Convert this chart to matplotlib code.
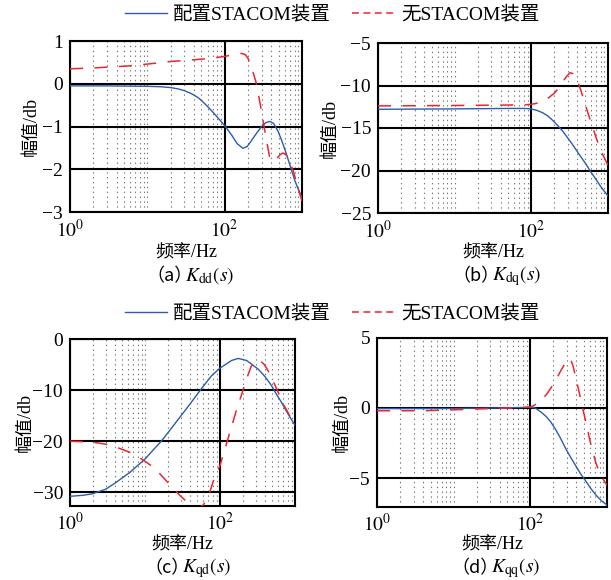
import numpy as np
import matplotlib
matplotlib.use("Agg")
import matplotlib.pyplot as plt
from matplotlib.lines import Line2D
from matplotlib.ticker import FixedLocator, NullFormatter

plt.rcParams['font.family'] = ['Liberation Serif', 'Noto Sans CJK SC', 'DejaVu Sans']
plt.rcParams['mathtext.fontset'] = 'stix'
plt.rcParams['lines.scale_dashes'] = False

# ---------------- data ----------------
legend_labels = ['配置STACOM装置', '无STACOM装置']
caption_tags = ['（a）', '（b）', '（c）', '（d）']
caption_math = ['$K_{\\mathrm{dd}}(s)$', '$K_{\\mathrm{dq}}(s)$',
                '$K_{\\mathrm{qd}}(s)$', '$K_{\\mathrm{qq}}(s)$']
xlabel = '频率/Hz'
ylabel = '幅值/db'
xtick_vals = [1, 100]
xtick_labels = ['$10^0$', '$10^2$']

# (a) Kdd
a_with_f = [1, 3, 10, 15, 20, 25, 30, 37, 45, 52, 60, 70, 82, 100, 122, 145, 172, 195, 220, 260, 300, 340, 385, 430, 490, 560, 630, 720, 810, 900, 1000]
a_with_y = [-0.05, -0.05, -0.06, -0.07, -0.09, -0.12, -0.16, -0.23, -0.32, -0.42, -0.53, -0.66, -0.80, -0.98, -1.19, -1.40, -1.51, -1.47, -1.34, -1.15, -1.00, -0.91, -0.88, -0.93, -1.11, -1.38, -1.65, -1.98, -2.27, -2.48, -2.66]
a_without_f = [1, 2, 4, 6, 10, 20, 40, 70, 100, 130, 164, 185, 200, 230, 256, 290, 330, 380, 420, 460, 520, 570, 620, 680, 760, 880, 1000]
a_without_y = [0.35, 0.37, 0.40, 0.42, 0.46, 0.52, 0.56, 0.60, 0.64, 0.68, 0.71, 0.68, 0.60, 0.30, 0.02, -0.50, -1.10, -1.70, -1.82, -1.78, -1.66, -1.62, -1.66, -1.80, -2.00, -2.40, -2.75]

# (b) Kdq
b_with_f = [1, 10, 50, 80, 100, 120, 140, 165, 190, 220, 253, 300, 342, 420, 512, 600, 692, 820, 1000]
b_with_y = [-12.8, -12.75, -12.7, -12.7, -12.75, -12.95, -13.2, -13.6, -14.1, -14.7, -15.3, -16.2, -16.9, -18.1, -19.2, -20.2, -21.0, -22.0, -23.0]
b_without_f = [1, 10, 50, 90, 110, 130, 150, 170, 200, 227, 260, 290, 320, 350, 394, 440, 480, 560, 680, 800, 1000]
b_without_y = [-12.4, -12.35, -12.3, -12.25, -12.15, -12.0, -11.75, -11.4, -10.9, -10.3, -9.5, -8.9, -8.5, -8.6, -9.3, -10.5, -11.6, -13.5, -15.8, -17.6, -19.4]

# (c) Kqd
c_with_f = [1, 1.5, 2, 3, 4, 6.3, 10, 16.7, 25, 40, 56, 77, 100, 143, 175, 226, 323, 400, 485, 560, 660, 800, 1000]
c_with_y = [-30.8, -30.6, -30.3, -29.4, -28.2, -26.1, -23.5, -19.9, -16.6, -12.7, -9.8, -7.2, -5.7, -4.2, -3.8, -4.2, -5.9, -7.4, -9.1, -10.7, -12.4, -14.6, -16.9]
c_without_f = [1, 2, 3, 4.2, 6.3, 9, 13, 17, 23, 30, 41, 50, 60, 73, 85, 100, 128, 165, 195, 230, 260, 300, 340, 390, 450, 520, 600, 700, 800, 900, 1000]
c_without_y = [-20.0, -20.2, -20.6, -21.2, -22.2, -23.5, -25.1, -26.9, -29.0, -30.8, -32.6, -33.2, -32.5, -30.0, -27.0, -24.8, -19.5, -14.0, -10.8, -7.5, -5.4, -4.1, -4.2, -5.0, -6.5, -8.5, -10.5, -12.8, -14.3, -15.8, -17.0]

# (d) Kqq
d_with_f = [1, 10, 40, 80, 100, 115, 137, 160, 185, 215, 250, 290, 335, 390, 455, 530, 610, 720, 850, 1000]
d_with_y = [-0.05, -0.04, 0.0, 0.03, 0.05, 0.0, -0.28, -0.6, -1.0, -1.55, -2.2, -2.9, -3.5, -4.1, -4.7, -5.2, -5.7, -6.2, -6.6, -6.9]
d_without_f = [1, 2, 4, 9.4, 21, 46, 80, 100, 110, 125, 145, 165, 190, 216, 250, 290, 315, 335, 360, 393, 430, 458, 480, 520, 560, 610, 715, 790, 900, 1000]
d_without_y = [-0.2, -0.2, -0.2, -0.14, -0.07, -0.02, 0.03, 0.07, 0.15, 0.35, 0.65, 1.0, 1.5, 2.0, 2.65, 3.24, 3.5, 3.45, 3.0, 2.1, 1.2, 0.54, 0.0, -0.8, -1.6, -2.5, -3.9, -4.5, -5.1, -5.5]

ylims = [(-3, 1), (-25, -5), (-32.6, 0), (-7, 5)]
yticks = [[-3, -2, -1, 0, 1], [-25, -20, -15, -10, -5], [-30, -20, -10, 0], [-5, 0, 5]]

series = [(a_with_f, a_with_y, a_without_f, a_without_y),
          (b_with_f, b_with_y, b_without_f, b_without_y),
          (c_with_f, c_with_y, c_without_f, c_without_y),
          (d_with_f, d_with_y, d_without_f, d_without_y)]

# ---------------- layout ----------------
W, H = 611, 580
fig = plt.figure(figsize=(W / 100, H / 100), dpi=100)

# axes boxes in pixels: left, right, top, bottom
boxes = [(70, 302, 41, 212), (378, 608, 43, 213), (70, 295, 339, 505.5), (377, 607, 337.5, 506.5)]
ylabel_pos = [(31, 126), (330, 128), (25, 422), (342, 422)]
xlabel_y = [253, 253, 545, 545]
caption_y = [276, 276, 568, 568]

blue = '#2d5caa'
red = '#ea262e'
dash = (0, (9.4, 8.2))

minor = [m * 10 ** e for e in range(3) for m in range(1, 10) if not (m == 1 and e in (0, 2))]

for i, (box, s) in enumerate(zip(boxes, series)):
    l, r, t, b = box
    ax = fig.add_axes([l / W, 1 - b / H, (r - l) / W, (b - t) / H])
    ax.set_xscale('log')
    ax.set_xlim(1, 1000)
    ax.set_ylim(*ylims[i])
    ax.plot(s[0], s[1], color=blue, lw=1.0, zorder=3)
    ax.plot(s[2], s[3], color=red, lw=1.1, linestyle=dash, zorder=4)
    ax.xaxis.set_major_locator(FixedLocator(xtick_vals))
    ax.set_xticklabels(xtick_labels)
    ax.xaxis.set_minor_locator(FixedLocator(minor))
    ax.xaxis.set_minor_formatter(NullFormatter())
    ax.set_yticks(yticks[i])
    ax.grid(which='major', color='black', lw=1.5, linestyle='-', zorder=1)
    ax.grid(which='minor', axis='x', color='#777777', lw=0.8, linestyle=(0, (1, 2.5)), zorder=1)
    ax.set_axisbelow(True)
    ax.tick_params(which='both', length=0, labelsize=14, pad=5)
    for sp in ax.spines.values():
        sp.set_linewidth(1.5)
        sp.set_color('black')
    cx = (l + r) / 2
    fig.text(cx / W, 1 - xlabel_y[i] / H, xlabel, ha='center', va='center', fontsize=13)
    fig.text((cx + 7) / W, 1 - caption_y[i] / H, caption_tags[i], ha='right', va='center',
             fontsize=13, family=['Noto Sans CJK SC', 'Liberation Serif'])
    fig.text((cx - 1) / W, 1 - caption_y[i] / H, caption_math[i], ha='left', va='center',
             fontsize=14)
    yx, yy = ylabel_pos[i]
    fig.text(yx / W, 1 - yy / H, ylabel, ha='center', va='center', rotation=90, fontsize=13)

handles = [Line2D([], [], color=blue, lw=1.0),
           Line2D([], [], color=red, lw=1.1, linestyle=(0, (5, 3.2)))]
for ly in (15, 314):
    fig.legend(handles, legend_labels, loc='center', bbox_to_anchor=(332 / W, 1 - ly / H),
               ncol=2, frameon=False, fontsize=14, handlelength=2.2, handletextpad=0.3,
               columnspacing=1.1, borderpad=0, borderaxespad=0)

fig.savefig('out.png', dpi=100)
